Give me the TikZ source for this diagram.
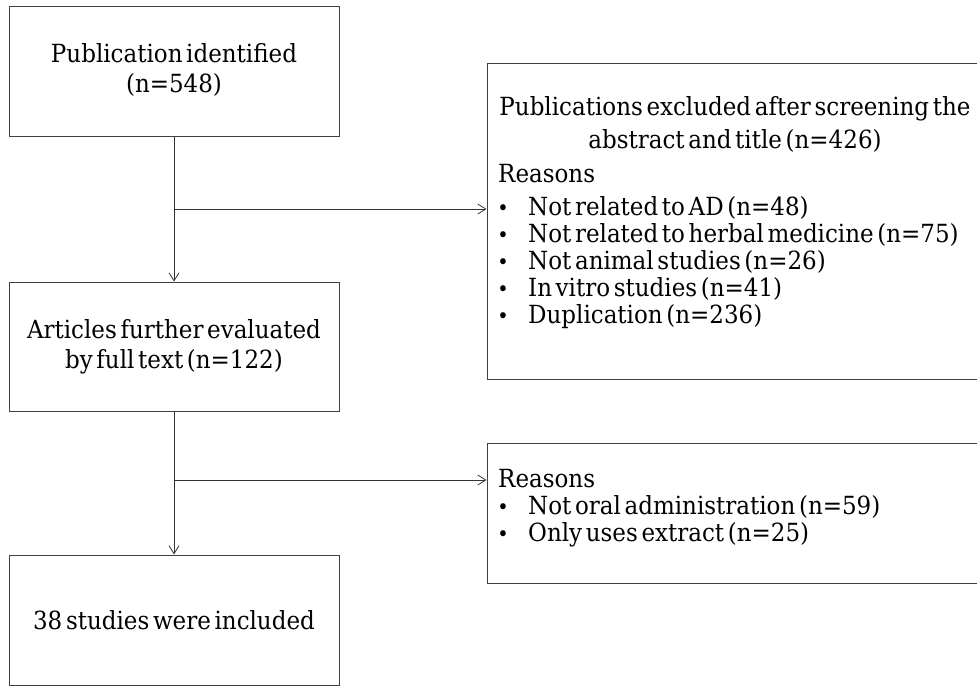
\documentclass[tikz,border=0pt]{standalone}
\usepackage{fontspec}
\setmainfont{DejaVu Serif}[FakeStretch=0.92,WordSpace=0.5]
\usetikzlibrary{arrows.meta}
\tikzset{
  boxnode/.style={draw=black!75,line width=1pt,inner sep=0pt,align=center,
    font={\fontsize{25}{30}\selectfont}},
  line/.style={draw=black!80,line width=1pt},
  arr/.style={line,-{Straight Barb[length=8pt,width=10pt,line width=0.8pt]}},
  txt/.style={inner sep=0pt,anchor=mid west,font={\fontsize{25}{30}\selectfont}},
  ctxt/.style={inner sep=0pt,anchor=mid,font={\fontsize{25}{30}\selectfont}},
  bul/.style={inner sep=0pt,anchor=mid,font={\fontsize{21}{24}\selectfont}}
}
\begin{document}
\begin{tikzpicture}[x=1pt,y=-1pt]
\useasboundingbox (0,0) rectangle (977,686);
\clip (0,0) rectangle (977,686);
% left boxes
\node[boxnode,minimum width=330pt,minimum height=130pt] (b1) at (174,71) {\raisebox{-3pt}{\begin{tabular}{@{}c@{}}Publication identified\\(n=548)\end{tabular}}};
\node[boxnode,minimum width=330pt,minimum height=129pt] (b2) at (174,346.5) {Articles further evaluated\\by full text (n=122)};
\node[boxnode,minimum width=330pt,minimum height=130pt] (b3) at (174,620) {38 studies were included};
% right boxes
\node[boxnode,minimum width=495pt,minimum height=316pt] (r1) at (734.5,221) {};
\node[boxnode,minimum width=495pt,minimum height=140pt] (r2) at (734.5,513) {};
% right box 1 text
\node[ctxt] (t1) at (735,113) {Publications excluded after screening the};
\node[ctxt] (t2) at (735,146) {abstract and title (n=426)};
\node[txt] (t3) at (498,180) {Reasons};
\node[bul] (u1) at (503,213) {•}; \node[txt] (l1) at (528,213) {Not related to AD (n=48)};
\node[bul] (u2) at (503,240) {•}; \node[txt] (l2) at (528,240) {Not related to herbal medicine (n=75)};
\node[bul] (u3) at (503,267) {•}; \node[txt] (l3) at (528,267) {Not animal studies (n=26)};
\node[bul] (u4) at (503,294) {•}; \node[txt] (l4) at (528,294) {In vitro studies (n=41)};
\node[bul] (u5) at (503,321) {•}; \node[txt] (l5) at (528,321) {Duplication (n=236)};
% right box 2 text
\node[txt] (s0) at (498,485) {Reasons};
\node[bul] (v1) at (503,512) {•}; \node[txt] (m1) at (528,512) {Not oral administration (n=59)};
\node[bul] (v2) at (503,539) {•}; \node[txt] (m2) at (528,539) {Only uses extract (n=25)};
% connectors
\coordinate (j1) at (174,209);
\coordinate (j2) at (174,480);
\draw[arr] (b1.south) -- (b2.north);
\draw[arr] (j1) -- (j1 -| r1.west);
\draw[arr] (b2.south) -- (b3.north);
\draw[arr] (j2) -- (j2 -| r2.west);
\end{tikzpicture}
\end{document}
